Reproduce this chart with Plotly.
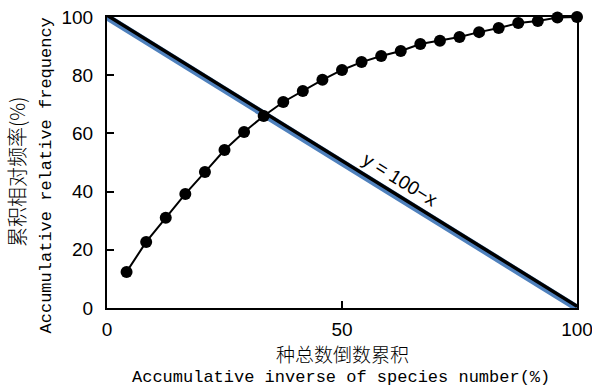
import plotly.graph_objects as go

# Data
n_points = 24
x_vals = [100 * k / n_points for k in range(1, n_points + 1)]
y_vals = [12.4, 22.7, 31.0, 39.2, 46.7, 54.3, 60.5, 66.0, 70.8, 74.6, 78.4, 81.8,
          84.5, 86.6, 88.3, 90.7, 91.8, 93.1, 94.8, 96.2, 97.9, 98.6, 99.8, 100.0]
ref_x = [0, 100]
ref_y = [100 - v for v in ref_x]
x_ticks = [0, 50, 100]
y_ticks = [0, 20, 40, 60, 80, 100]

fig = go.Figure()
fig.add_trace(go.Scatter(x=ref_x, y=ref_y, mode="lines",
                         line=dict(color="#4f81bd", width=7), hoverinfo="skip",
                         cliponaxis=False))
# black line on an overlaid axis shifted slightly, so the blue shows beneath it
fig.add_trace(go.Scatter(x=ref_x, y=ref_y, mode="lines", yaxis="y2",
                         line=dict(color="black", width=3.5), hoverinfo="skip",
                         cliponaxis=False))
fig.add_trace(go.Scatter(x=x_vals, y=y_vals, mode="lines+markers",
                         line=dict(color="black", width=2),
                         marker=dict(color="black", size=12),
                         cliponaxis=False))

axis_common = dict(showline=True, linecolor="black", linewidth=2, mirror=True,
                   ticks="inside", ticklen=7, tickwidth=2, tickcolor="black",
                   showgrid=False, zeroline=False, automargin=False,
                   ticklabeloverflow="allow",
                   tickfont=dict(family="Liberation Sans, Arial", size=19, color="black"))

fig.update_layout(
    xaxis=dict(range=[0, 100], tickvals=x_ticks, ticklabelstandoff=3, **axis_common),
    yaxis=dict(range=[0, 100], tickvals=y_ticks, ticklabelstandoff=8, **axis_common),
    yaxis2=dict(range=[-0.6, 99.4], overlaying="y", visible=False, showgrid=False,
                zeroline=False, automargin=False),
)

cjk = "Noto Sans CJK SC"
mono = "Liberation Mono, DejaVu Sans Mono, monospace"
fig.add_annotation(text="种总数倒数累积", xref="paper", yref="paper", x=0.5, y=-0.155,
                   xanchor="center", yanchor="middle", showarrow=False,
                   font=dict(family=cjk, size=19, color="black", weight=300))
fig.add_annotation(text="Accumulative inverse of species number(%)", xref="paper", yref="paper",
                   x=0.497, y=-0.24, xanchor="center", yanchor="middle", showarrow=False,
                   font=dict(family=mono, size=17, color="black"))
fig.add_annotation(text="累积相对频率(%)", xref="paper", yref="paper", x=-0.194, y=0.47,
                   xanchor="center", yanchor="middle", showarrow=False, textangle=-90,
                   font=dict(family=cjk, size=20, color="black", weight=300))
fig.add_annotation(text="Accumulative relative frequency", xref="paper", yref="paper",
                   x=-0.128, y=0.455, xanchor="center", yanchor="middle", showarrow=False,
                   textangle=-90, font=dict(family=mono, size=17, color="black"))
fig.add_annotation(text="y = 100−x", x=62.3, y=44, xref="x", yref="y", showarrow=False,
                   textangle=31.8, font=dict(family="Liberation Sans, Arial", size=19, color="black"))

fig.update_layout(width=592, height=387,
                  margin=dict(l=107, r=15, t=17, b=79, autoexpand=False),
                  paper_bgcolor="white", plot_bgcolor="white", showlegend=False)

fig.write_html("out.html", config={"displayModeBar": False},
               post_script="document.body.style.margin='0';document.body.style.overflow='hidden';")
